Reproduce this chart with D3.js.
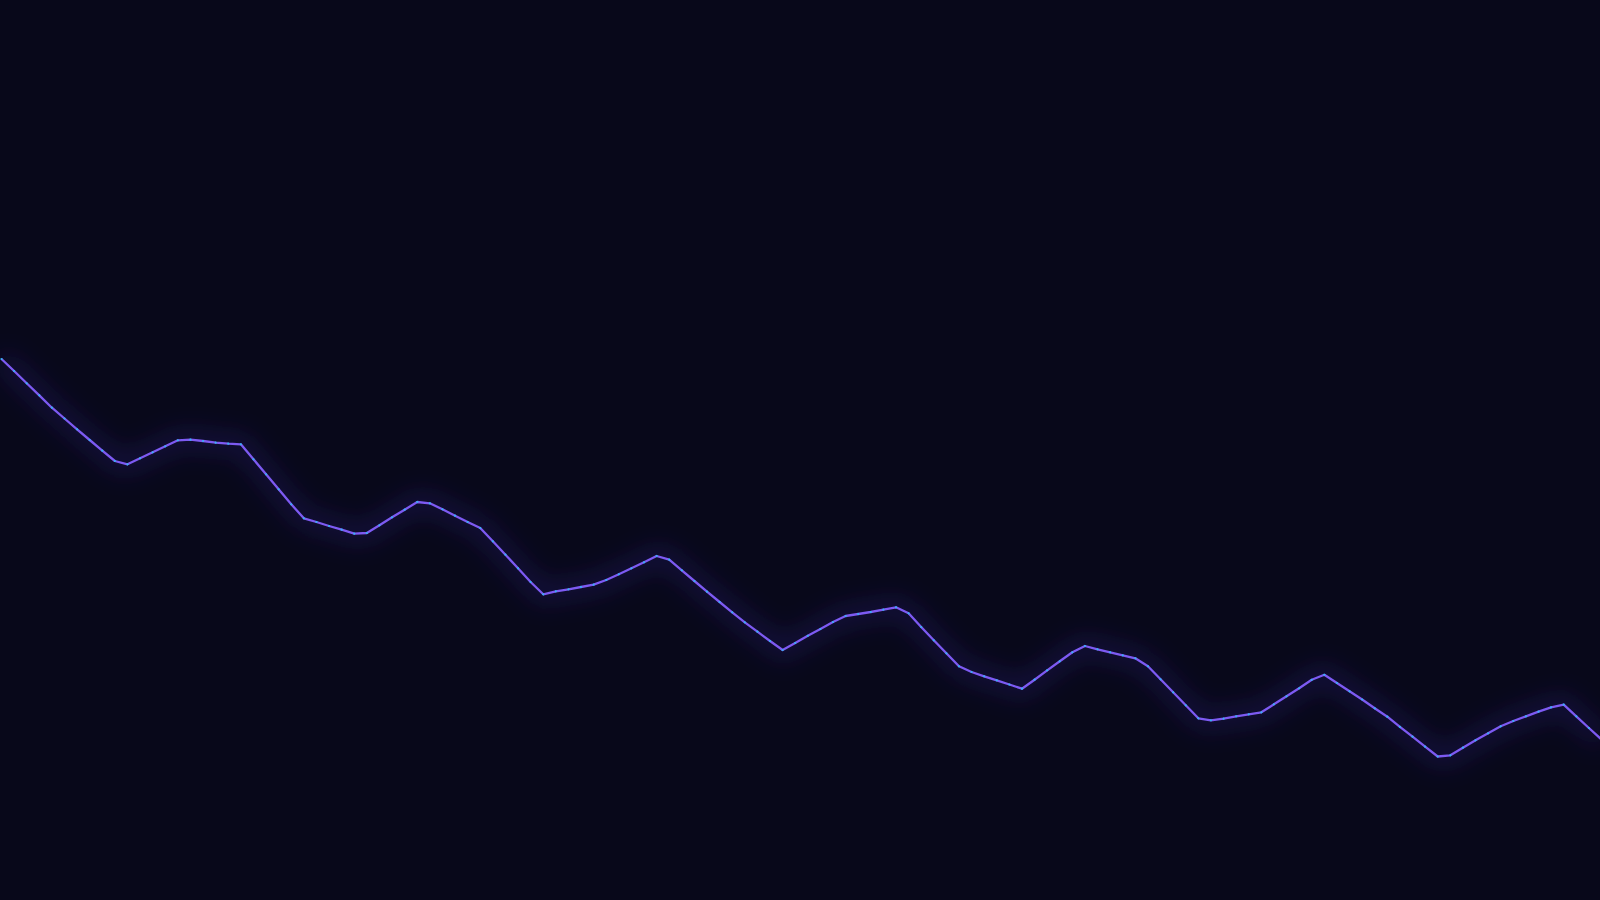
<!DOCTYPE html>
<html>
<head>
<meta charset="utf-8">
<script src="https://cdn.jsdelivr.net/npm/d3@7"></script>
<style>
  html, body { margin: 0; padding: 0; background: #08081a; overflow: hidden; }
</style>
</head>
<body>
<div id="chart"></div>
<script>
// height of the signal above the bottom edge, one value per sample
const values = [
  541, 529, 516.7, 504.7, 492.3, 481.5, 470.7, 460, 449.3, 439,
  435.7, 441.7, 447.7, 453.7, 459.7, 460.3, 459, 457.3, 456.3, 455.7,
  440.7, 425.7, 410.7, 395.7, 381.7, 378, 374, 370.3, 366.3, 367,
  374.7, 382.7, 390.3, 398, 396.7, 390.7, 384.3, 378, 372, 358.7,
  345.3, 331.7, 318, 305.7, 308.7, 310.7, 313, 315.3, 320, 325.7,
  331.7, 337.7, 344, 340.3, 329.7, 319, 308.3, 298, 287.7, 277.7,
  268.3, 259, 250, 257, 264.2, 271, 278, 284, 286, 288,
  290.3, 292.7, 286.7, 273, 259.7, 246.7, 233.7, 228, 223.7, 219.7,
  215.5, 211.3, 220.3, 229.7, 238.7, 247.7, 254, 250.7, 247.7, 244.7,
  241.7, 233.7, 220.7, 207.7, 194.7, 181.7, 179.7, 181.3, 183.7, 185.7,
  187.7, 195.7, 203.7, 211.7, 220.2, 225.2, 217, 208.7, 200.5, 191.7,
  183.3, 173.1, 163.3, 153.3, 143.5, 144.7, 152.3, 159.7, 166.7, 173.7,
  179, 183.7, 188.3, 192.7, 195.3, 183.7, 172, 160.5
]
const index = d3.range(values.length)

const width = 1600
const height = 900

const xScale = d3.scaleLinear()
  .domain([0, values.length - 1])
  .range([1.5, 1601.5])
const yScale = d3.scaleLinear()
  .domain([0, 900])
  .range([height, 0])

const svg = d3.select('#chart')
  .append('svg')
  .attr('width', width)
  .attr('height', height)

svg.append('rect')
  .attr('width', width)
  .attr('height', height)
  .attr('fill', '#08081a')

const defs = svg.append('defs')
defs.append('filter')
  .attr('id', 'glow')
  .attr('x', '-10%')
  .attr('y', '-50%')
  .attr('width', '120%')
  .attr('height', '200%')
  .append('feGaussianBlur')
  .attr('stdDeviation', 12)

const line = d3.line()
  .x(i => xScale(i))
  .y(i => yScale(values[i]))

// soft halo under the line
svg.append('path')
  .datum(index)
  .attr('d', line)
  .attr('fill', 'none')
  .attr('stroke', '#5a3cff')
  .attr('stroke-width', 18)
  .attr('stroke-opacity', 0.16)
  .attr('filter', 'url(#glow)')

svg.append('path')
  .datum(index)
  .attr('d', line)
  .attr('fill', 'none')
  .attr('stroke', '#7d5af2')
  .attr('stroke-width', 2.3)
  .attr('stroke-linejoin', 'round')

svg.selectAll('circle')
  .data(index)
  .enter()
  .append('circle')
  .attr('cx', i => xScale(i))
  .attr('cy', i => yScale(values[i]))
  .attr('r', 1.1)
  .attr('fill', '#36b4f5')
</script>
</body>
</html>
